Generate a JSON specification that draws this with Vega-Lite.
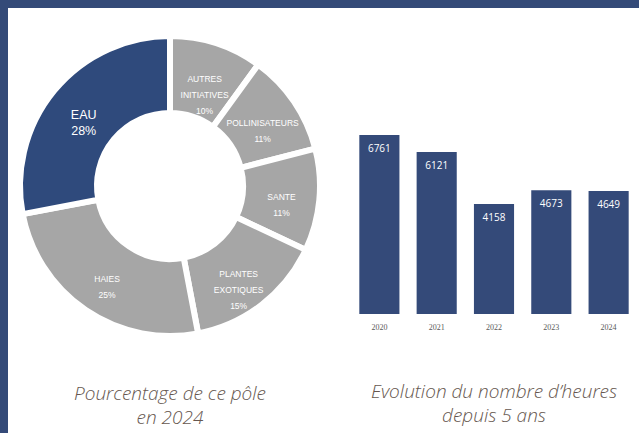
{
  "$schema": "https://vega.github.io/schema/vega-lite/v6.json",
  "background": "white",
  "padding": 0,
  "config": {"view": {"stroke": null}, "concat": {"spacing": 0}},
  "datasets": {
    "poles": [
      {"cat": "AUTRES INITIATIVES", "label": "AUTRES\nINITIATIVES\n10%", "pct": 10, "rang": 1},
      {"cat": "POLLINISATEURS", "label": "POLLINISATEURS\n11%", "pct": 11, "rang": 2},
      {"cat": "SANTE", "label": "SANTE\n11%", "pct": 11, "rang": 3},
      {"cat": "PLANTES EXOTIQUES", "label": "PLANTES\nEXOTIQUES\n15%", "pct": 15, "rang": 4},
      {"cat": "HAIES", "label": "HAIES\n25%", "pct": 25, "rang": 5},
      {"cat": "EAU", "label": "EAU\n28%", "pct": 28, "rang": 6}
    ],
    "heures": [
      {"annee": "2020", "heures": 6761},
      {"annee": "2021", "heures": 6121},
      {"annee": "2022", "heures": 4158},
      {"annee": "2023", "heures": 4673},
      {"annee": "2024", "heures": 4649}
    ]
  },
  "vconcat": [
    {
      "width": 639,
      "height": 8,
      "data": {"values": []},
      "mark": "rect",
      "encoding": {},
      "view": {"fill": "#344a78", "stroke": null}
    },
    {
      "hconcat": [
        {
          "width": 8,
          "height": 425,
          "data": {"values": []},
          "mark": "rect",
          "encoding": {},
          "view": {"fill": "#344a78", "stroke": null}
        },
        {
          "spacing": 17,
          "hconcat": [
            {
              "width": 318,
              "height": 356,
              "data": {"name": "poles"},
              "title": {
                "text": ["Pourcentage de ce pôle", "en 2024"],
                "orient": "bottom",
                "anchor": "middle",
                "offset": 21,
                "font": "Open Sans",
                "fontSize": 19,
                "fontStyle": "italic",
                "fontWeight": 300,
                "color": "#66574f",
                "lineHeight": 24
              },
              "encoding": {
                "theta": {"field": "pct", "type": "quantitative", "stack": true},
                "order": {"field": "rang", "type": "quantitative"}
              },
              "layer": [
                {
                  "mark": {"type": "arc", "outerRadius": 150, "innerRadius": 73, "stroke": "white", "strokeWidth": 6},
                  "encoding": {
                    "color": {
                      "field": "cat",
                      "type": "nominal",
                      "scale": {
                        "domain": ["AUTRES INITIATIVES", "POLLINISATEURS", "SANTE", "PLANTES EXOTIQUES", "HAIES", "EAU"],
                        "range": ["#a6a6a6", "#a6a6a6", "#a6a6a6", "#a6a6a6", "#a6a6a6", "#2f4a7c"]
                      },
                      "legend": null
                    }
                  }
                },
                {
                  "mark": {"type": "text", "radius": 112, "fill": "white", "lineBreak": "\n", "lineHeight": 16, "font": "Liberation Sans", "baseline": "middle", "align": "center"},
                  "encoding": {
                    "text": {"field": "label", "type": "nominal"},
                    "size": {"condition": {"test": "datum.cat === 'EAU'", "value": 12.5}, "value": 8.5}
                  }
                }
              ]
            },
            {
              "width": 290,
              "height": 306,
              "data": {"name": "heures"},
              "title": {
                "text": ["Evolution du nombre d’heures", "depuis 5 ans"],
                "orient": "bottom",
                "anchor": "middle",
                "offset": 52,
                "font": "Open Sans",
                "fontSize": 19,
                "fontStyle": "italic",
                "fontWeight": 300,
                "color": "#66574f",
                "lineHeight": 24
              },
              "encoding": {
                "x": {
                  "field": "annee",
                  "type": "ordinal",
                  "scale": {"paddingInner": 0.3, "paddingOuter": 0.18},
                  "axis": {"title": null, "labelAngle": 0, "domain": false, "ticks": false, "labelFontSize": 8, "labelColor": "#595959", "labelPadding": 9, "labelFont": "Liberation Serif"}
                },
                "y": {
                  "field": "heures",
                  "type": "quantitative",
                  "scale": {"domain": [0, 11560]},
                  "axis": null
                }
              },
              "layer": [
                {"mark": {"type": "bar", "color": "#344a79"}},
                {
                  "mark": {"type": "text", "fill": "white", "baseline": "middle", "dy": 14, "font": "Open Sans", "fontSize": 10},
                  "encoding": {"text": {"field": "heures", "type": "quantitative", "format": "d"}}
                }
              ]
            }
          ]
        }
      ]
    }
  ]
}
